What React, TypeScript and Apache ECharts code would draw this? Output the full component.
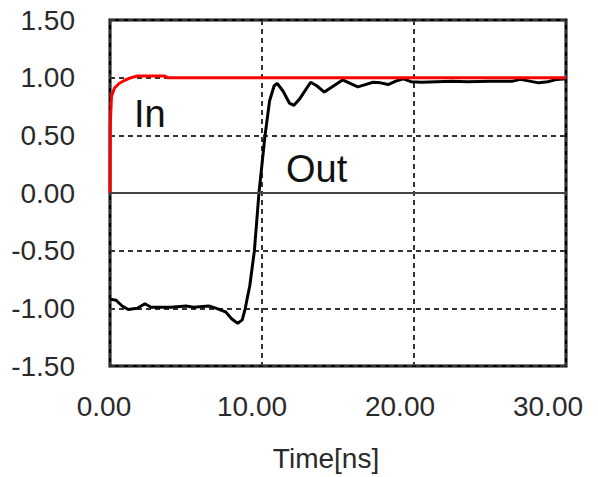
import React, { useEffect, useRef } from "react";
import * as echarts from "echarts";

// Input step response ("In"), time in ns
const inTime = [0, 0.02, 0.1, 0.3, 0.6, 1.0, 1.4, 1.8, 3.6, 3.8, 30];
const inValue = [0, 0.6, 0.84, 0.91, 0.95, 0.98, 1.0, 1.015, 1.015, 1.0, 1.0];

// Output response ("Out"), time in ns
const outTime = [
  0, 0.4, 0.8, 1.2, 1.8, 2.3, 2.7, 4.0, 5.0, 5.5, 6.5, 7.0, 7.6, 8.0, 8.4, 8.7,
  8.9, 9.2, 9.5, 9.8, 10.2, 10.5, 10.8, 11.0, 11.4, 11.8, 12.1, 12.5, 13.2, 13.6,
  14.1, 14.6, 15.3, 15.8, 16.3, 16.8, 17.3, 17.8, 18.3, 18.8, 19.3, 19.8, 20.5,
  21.5, 22.5, 23.5, 25.0, 26.5, 27.0, 27.6, 28.2, 28.8, 29.4, 30.0,
];
const outValue = [
  -0.92, -0.93, -0.98, -1.01, -1.0, -0.96, -0.99, -0.99, -0.98, -0.99, -0.98,
  -1.0, -1.03, -1.09, -1.13, -1.1, -1.0, -0.8, -0.5, 0.0, 0.5, 0.8, 0.93, 0.95,
  0.88, 0.78, 0.76, 0.82, 0.96, 0.93, 0.875, 0.92, 0.98, 0.95, 0.92, 0.94, 0.96,
  0.955, 0.94, 0.97, 0.99, 0.965, 0.96, 0.965, 0.97, 0.965, 0.97, 0.97, 0.985,
  0.97, 0.955, 0.965, 0.985, 0.99,
];

const FONT = "'Liberation Sans', Arial, sans-serif";
const TEXT_COLOR = "#2a2a2a";

export default function App() {
  const ref = useRef<HTMLDivElement>(null);

  useEffect(() => {
    document.body.style.margin = "0";
    if (!ref.current) return;
    const chart = echarts.init(ref.current, null, { renderer: "svg" });
    const dashed = { color: "#333", width: 2, type: [5, 4] as number[] };
    chart.setOption({
      animation: false,
      backgroundColor: "#fff",
      grid: [
        {
          left: 110,
          right: 32,
          top: 20,
          bottom: 111,
          show: true,
          borderColor: "#000",
          borderWidth: 3,
          backgroundColor: "#fff",
        },
        // label grid: the time tick labels sit on a slightly narrower span
        { left: 104, right: 50, top: 20, bottom: 111, show: false },
      ],
      xAxis: [
        {
          type: "value",
          gridIndex: 0,
          min: 0,
          max: 30,
          interval: 10,
          axisLine: { show: false },
          axisTick: { show: false },
          axisLabel: { show: false },
          splitLine: { show: true, lineStyle: dashed },
        },
        {
          type: "value",
          gridIndex: 1,
          min: 0,
          max: 30,
          interval: 10,
          axisLine: { show: false },
          axisTick: { show: false },
          splitLine: { show: false },
          axisLabel: {
            formatter: (v: number) => v.toFixed(2),
            fontSize: 28,
            fontFamily: FONT,
            color: TEXT_COLOR,
            margin: 30,
          },
          name: "Time[ns]",
          nameLocation: "middle",
          nameGap: 82,
          nameTextStyle: { fontSize: 28, fontFamily: FONT, color: TEXT_COLOR },
        },
      ],
      yAxis: [
        {
          type: "value",
          gridIndex: 0,
          min: -1.5,
          max: 1.5,
          interval: 0.5,
          axisLine: { show: false },
          axisTick: { show: false },
          splitLine: { show: true, lineStyle: dashed },
          axisLabel: {
            formatter: (v: number) => v.toFixed(2),
            fontSize: 28,
            fontFamily: FONT,
            color: TEXT_COLOR,
            margin: 35,
          },
        },
        { type: "value", gridIndex: 1, min: -1.5, max: 1.5, show: false },
      ],
      series: [
        {
          name: "Out",
          type: "line",
          xAxisIndex: 0,
          yAxisIndex: 0,
          data: outTime.map((t, i) => [t, outValue[i]]),
          showSymbol: false,
          lineStyle: { color: "#000", width: 3 },
          markLine: {
            silent: true,
            symbol: "none",
            label: { show: false },
            lineStyle: { color: "#444", width: 2, type: "solid" },
            data: [{ yAxis: 0 }],
          },
          z: 2,
        },
        {
          name: "In",
          type: "line",
          xAxisIndex: 0,
          yAxisIndex: 0,
          data: inTime.map((t, i) => [t, inValue[i]]),
          showSymbol: false,
          lineStyle: { color: "#ff0000", width: 3 },
          z: 3,
        },
      ],
      graphic: [
        {
          type: "text",
          left: 134,
          top: 95,
          style: { text: "In", fontSize: 38, fontFamily: FONT, fill: "#111" },
          z: 10,
        },
        {
          type: "text",
          left: 286,
          top: 150,
          style: { text: "Out", fontSize: 38, fontFamily: FONT, fill: "#111" },
          z: 10,
        },
      ],
    });
    return () => chart.dispose();
  }, []);

  return <div ref={ref} style={{ width: 598, height: 477 }} />;
}
